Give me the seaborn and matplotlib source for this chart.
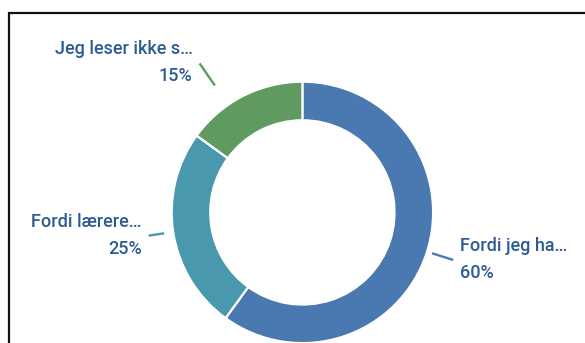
import numpy as np
import matplotlib
matplotlib.use("Agg")
import matplotlib.pyplot as plt
import seaborn as sns
from matplotlib.patches import Rectangle

# Data
labels = ["Fordi jeg ha…", "Fordi lærere…", "Jeg leser ikke s…"]
values = [60, 25, 15]
colors = ["#4a78b0", "#4a98ad", "#5f9b60"]

sns.set_theme(style="white")
plt.rcParams['font.family'] = ['Roboto', 'DejaVu Sans']

W, H = 585, 343
fig = plt.figure(figsize=(W / 100, H / 100), dpi=100)
fig.patch.set_facecolor("white")
ax = fig.add_axes([0, 0, 1, 1])

cx, cy, R = 302.4, H - 212.4, 130.7
wedges, _ = ax.pie(values, colors=sns.color_palette(colors), startangle=90,
                   counterclock=False, center=(cx, cy), radius=R, frame=True,
                   wedgeprops=dict(width=R * 0.295, edgecolor="white", linewidth=1.6))
ax.set_xlim(0, W)
ax.set_ylim(0, H)
ax.set_aspect("equal")
ax.axis("off")

# layout of leader lines (fractions of R) and angle nudges
r_in = [1.04, 1.07, 1.18]
r_out = [1.21, 1.19, 1.385]
nudge = [0.5, -0.4, 7.6]
text_color = "#2c5c92"
fs_pt = 13
em_px = fs_pt * 100 / 72
total = sum(values)

for i, w in enumerate(wedges):
    th = np.deg2rad((w.theta1 + w.theta2) / 2 + nudge[i])
    c, s = np.cos(th), np.sin(th)
    x0, y0 = cx + r_in[i] * R * c, cy + r_in[i] * R * s
    x1, y1 = cx + r_out[i] * R * c, cy + r_out[i] * R * s
    ax.plot([x0, x1], [y0, y1], color=colors[i], lw=1.7, solid_capstyle="butt")
    ha = "left" if c > 0 else "right"
    tx = x1 + (7 if c > 0 else -7)
    yc = y1 + 2
    base_off = 0.711 * em_px / 2
    ax.text(tx, yc + 13.5 - base_off, labels[i], ha=ha, va="baseline",
            fontsize=fs_pt, color=text_color, fontweight="medium")
    ax.text(tx, yc - 13.5 - base_off, f"{values[i] / total * 100:.0f}%", ha=ha,
            va="baseline", fontsize=fs_pt, color=text_color, fontweight="medium")

# cropped frame border
ax.add_patch(Rectangle((9, -20), 700, (H - 13) + 20, fill=False,
                       edgecolor="#111111", lw=1.6, clip_on=False))

fig.savefig("out.png", dpi=100, facecolor="white")
